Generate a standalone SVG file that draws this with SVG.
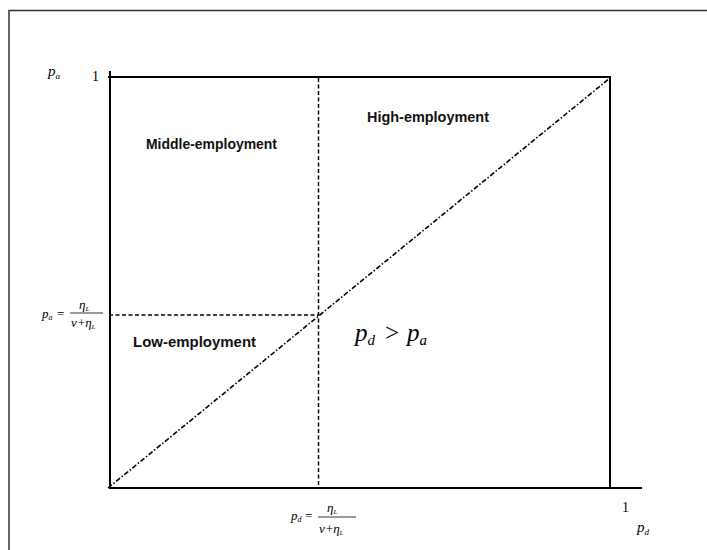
<svg xmlns="http://www.w3.org/2000/svg" width="707" height="550" viewBox="0 0 707 550">
<style>
.ax{stroke:#000;stroke-width:2;fill:none}
.lab{font-family:"Liberation Sans",Arial,sans-serif;font-weight:bold;font-size:14.5px;fill:#111}
.m{font-family:"Liberation Serif","Times New Roman",serif;fill:#000}
.i{font-style:italic}
</style>
<rect x="0" y="0" width="707" height="550" fill="#fff"/>
<rect x="9" y="10.5" width="720" height="560" fill="none" stroke="#333" stroke-width="1.5"/>
<g id="axes">
<line class="ax" x1="110" y1="71" x2="110" y2="489"/>
<line class="ax" x1="108" y1="77" x2="611" y2="77"/>
<line class="ax" x1="610" y1="77" x2="610" y2="489"/>
<line class="ax" x1="109" y1="488" x2="642" y2="488"/>
</g>
<g id="connectors">
<line x1="318.5" y1="78" x2="318.5" y2="487" stroke="#000" stroke-width="1.5" stroke-dasharray="4,2.5"/>
<line x1="109" y1="315" x2="318" y2="315" stroke="#000" stroke-width="1.5" stroke-dasharray="4,2.5"/>
<line x1="108" y1="488" x2="610" y2="78" stroke="#000" stroke-width="1.6" stroke-dasharray="5,2,1.5,2"/>
</g>
<g id="high"><text class="lab" x="367" y="122" textLength="122" lengthAdjust="spacingAndGlyphs">High-employment</text></g>
<g id="middle"><text class="lab" x="146" y="149" textLength="131" lengthAdjust="spacingAndGlyphs">Middle-employment</text></g>
<g id="low"><text class="lab" x="133" y="347" textLength="123" lengthAdjust="spacingAndGlyphs">Low-employment</text></g>
<g id="ineq">
<text class="m i" x="355" y="341" font-size="25">p<tspan font-size="15" dy="4">d</tspan></text>
<text class="m" x="385" y="341" font-size="25">&gt;</text>
<text class="m i" x="407" y="341" font-size="25">p<tspan font-size="15" dy="4">a</tspan></text>
</g>
<g id="ylabel"><text class="m i" x="48" y="76" font-size="15">p<tspan font-size="9" dy="3">a</tspan></text>
<text class="m" x="92" y="81" font-size="14">1</text></g>
<g id="xlabel"><text class="m" x="622" y="512" font-size="14">1</text>
<text class="m i" x="637" y="532" font-size="15">p<tspan font-size="9" dy="3">d</tspan></text></g>
<g id="yformula">
<text class="m i" x="42" y="318" font-size="13">p<tspan font-size="8" dy="2">a</tspan></text>
<text class="m" x="57" y="318" font-size="13">=</text>
<line x1="70" y1="313" x2="103" y2="313" stroke="#000" stroke-width="0.8"/>
<text class="m i" x="79" y="309" font-size="13">η<tspan font-size="7" dy="2">L</tspan></text>
<text class="m i" x="71" y="327" font-size="13">ν<tspan font-style="normal" dx="1">+</tspan>η<tspan font-size="7" dy="2">L</tspan></text>
</g>
<g id="xformula">
<text class="m i" x="291" y="520" font-size="13">p<tspan font-size="8" dy="2">d</tspan></text>
<text class="m" x="305" y="520" font-size="13">=</text>
<line x1="318" y1="517" x2="356" y2="517" stroke="#000" stroke-width="0.8"/>
<text class="m i" x="327" y="512" font-size="13">η<tspan font-size="7" dy="2">L</tspan></text>
<text class="m i" x="319" y="533" font-size="13">ν<tspan font-style="normal" dx="1">+</tspan>η<tspan font-size="7" dy="2">L</tspan></text>
</g>
</svg>
